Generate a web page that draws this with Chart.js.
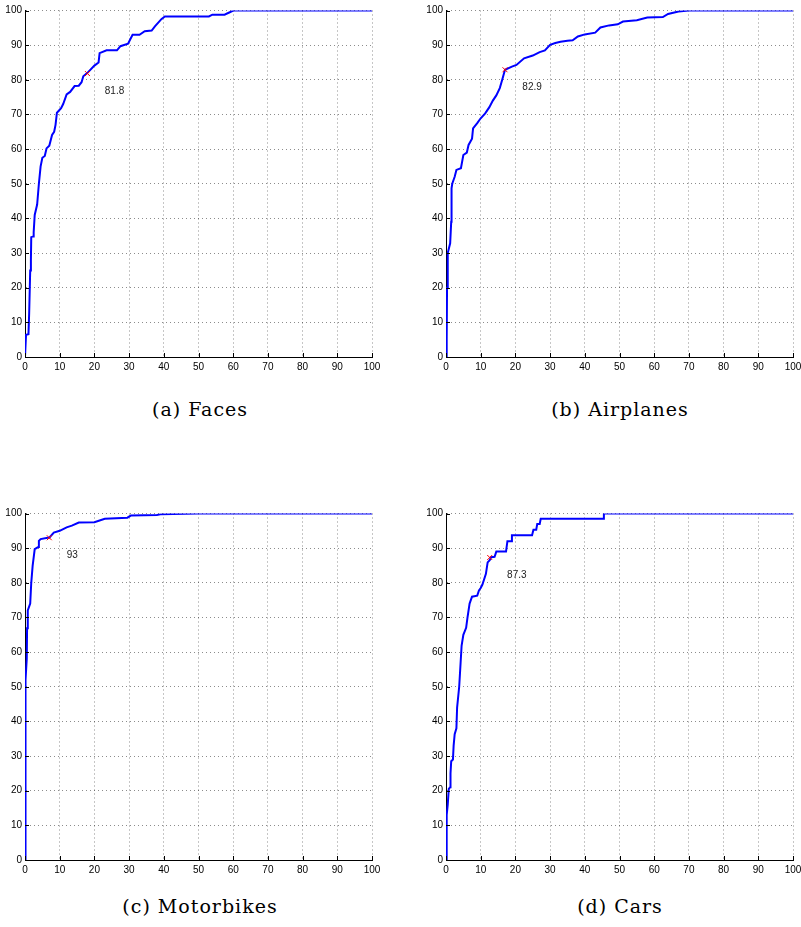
<!DOCTYPE html>
<html>
<head>
<meta charset="utf-8">
<script src="https://cdn.jsdelivr.net/npm/chart.js@4.4.1/dist/chart.umd.min.js"></script>
<style>
  body { margin: 0; background: #fff; overflow: hidden; width: 801px; height: 927px; position: relative; }
  canvas { position: absolute; }
  .cap { position: absolute; width: 400px; text-align: center; font-family: "DejaVu Serif", serif; font-size: 19px; letter-spacing: 1px; color: #000; line-height: 22px; }
</style>
</head>
<body>
<canvas id="facesChart" width="400" height="375" style="left:0;top:0"></canvas>
<canvas id="airplanesChart" width="400" height="375" style="left:421px;top:0"></canvas>
<canvas id="motorbikesChart" width="400" height="375" style="left:0;top:503px"></canvas>
<canvas id="carsChart" width="400" height="375" style="left:421px;top:503px"></canvas>
<div class="cap" style="left:0;top:398px">(a) Faces</div>
<div class="cap" style="left:420px;top:398px">(b) Airplanes</div>
<div class="cap" style="left:0;top:895px">(c) Motorbikes</div>
<div class="cap" style="left:420px;top:895px">(d) Cars</div>
<script>
// --------------------------------
// Data
// --------------------------------
const axisTicks = [0, 10, 20, 30, 40, 50, 60, 70, 80, 90, 100];

const facesX = [0, 0.3, 1.0, 1.2, 1.5, 1.7, 1.8, 2.4, 2.5, 2.8, 3.5, 4.0, 4.5, 5.0, 5.7, 6.2, 7.0, 7.8, 8.4, 8.8, 9.2, 10.4, 11.0, 12.0, 13.0, 14.3, 15.5, 16.3, 16.8, 18.0, 20.0, 21.2, 21.5, 23.5, 26.5, 27.5, 29.7, 31.0, 33.0, 34.5, 36.5, 37.5, 39.3, 40.3, 53.0, 54.0, 57.5, 59.0, 60.0, 100];
const facesY = [0, 6.4, 6.6, 12.6, 25, 28, 34.6, 34.8, 36, 41, 44, 50, 55, 57.5, 58, 60.2, 61, 64.1, 65, 67, 70.5, 71.8, 73, 75.8, 76.5, 78.2, 78.3, 79.3, 81, 82, 84.1, 85, 87.7, 88.5, 88.5, 89.7, 90.4, 93, 93, 94, 94.2, 95.5, 97.5, 98.3, 98.3, 98.8, 98.8, 99.5, 100, 100];

const airplanesX = [0, 0.2, 0.3, 0.5, 1.2, 1.5, 1.6, 1.8, 2.5, 3.0, 4.3, 5.0, 6.0, 6.5, 7.5, 7.8, 9.0, 10.0, 11.3, 12.5, 13.5, 14.5, 15.5, 16.2, 17.0, 19.0, 20.3, 22.5, 25, 27, 28.5, 30, 31.5, 33, 35, 36.5, 38, 40, 43, 44.5, 47, 49.5, 51, 55, 58, 62.5, 64, 67, 70, 100];
const airplanesY = [0, 5, 20, 30, 32.8, 39, 48.7, 50, 52, 54, 54.5, 58.3, 59, 61.2, 63, 66, 67.5, 68.9, 70.3, 72.1, 74, 75.5, 77.6, 80, 82.9, 83.8, 84.3, 86.2, 87, 88, 88.5, 90.1, 90.6, 91, 91.3, 91.4, 92.5, 93.1, 93.6, 95.1, 95.7, 96, 96.8, 97.2, 98, 98.1, 99, 99.7, 100, 100];

const motorbikesX = [0, 0.1, 0.2, 0.5, 0.6, 0.8, 1.5, 1.8, 2.2, 2.8, 3.8, 4.0, 4.5, 6.5, 7.0, 8.3, 10, 12, 13.5, 15.5, 20, 21.5, 23, 29.5, 30.5, 38, 39, 50, 100];
const motorbikesY = [0, 50, 52, 58, 66.9, 72, 74, 80, 84.9, 89.7, 90.3, 92.1, 92.6, 93, 93, 94.5, 95, 96, 96.5, 97.4, 97.5, 98, 98.5, 98.8, 99.4, 99.6, 99.8, 100, 100];

const carsX = [0, 0.2, 0.2, 0.5, 0.8, 1.2, 1.3, 1.5, 2.0, 2.2, 2.5, 3.0, 3.2, 3.8, 4.2, 4.5, 5.0, 5.8, 6.2, 6.8, 7.5, 9.0, 9.5, 10.0, 10.5, 11.5, 12.0, 12.6, 13.0, 14.0, 14.5, 17.3, 17.7, 18.8, 19.0, 24.8, 25.2, 26.0, 26.3, 27.0, 27.3, 45.3, 45.5, 100];
const carsY = [0, 0, 13, 16, 20.5, 21, 25, 28.5, 29, 33, 36.3, 38, 44, 50, 56.8, 61.9, 65, 67, 70, 74, 76, 76.3, 77.8, 78.5, 79.5, 82.6, 85.9, 86.5, 87.4, 87.5, 89, 89, 92, 92, 93.7, 93.7, 95.3, 95.3, 97, 97, 98.5, 98.5, 100, 100];

// operating point marked with a red x, and its label
const markX = [18, 17, 7, 12.6];
const markY = [81.8, 82.9, 93, 87.3];
const markLabels = ["81.8", "82.9", "93", "87.3"];

// -------------------------------
// Helpers
// -------------------------------
const tickFont = { family: "'Liberation Sans', Arial, sans-serif", size: 10 };

const matlabExtras = {
  id: "matlabExtras",
  afterDatasetsDraw(chart, args, opts) {
    const { ctx, scales: { x, y } } = chart;
    ctx.save();
    // small inward tick marks like matlab
    ctx.strokeStyle = "#000";
    ctx.lineWidth = 1;
    axisTicks.forEach((v) => {
      const px = Math.round(x.getPixelForValue(v)) + 0.5;
      ctx.beginPath();
      ctx.moveTo(px, y.bottom);
      ctx.lineTo(px, y.bottom - 4);
      ctx.stroke();
      const py = Math.round(y.getPixelForValue(v)) + 0.5;
      ctx.beginPath();
      ctx.moveTo(x.left, py);
      ctx.lineTo(x.left + 4, py);
      ctx.stroke();
    });
    // the value text next to the marker
    ctx.font = "10px 'Liberation Sans', Arial, sans-serif";
    ctx.fillStyle = "#222";
    ctx.textAlign = "left";
    ctx.textBaseline = "middle";
    ctx.fillText(opts.text, x.getPixelForValue(opts.x + 5), y.getPixelForValue(opts.y - 5));
    ctx.restore();
  },
};

function axisOpts() {
  return {
    type: "linear",
    min: 0,
    max: 100,
    afterBuildTicks: (axis) => {
      axis.ticks = axisTicks.map((v) => ({ value: v }));
    },
    ticks: { font: tickFont, color: "#000", padding: 3, maxRotation: 0, autoSkip: false },
    grid: { color: "rgba(0,0,0,0.45)", lineWidth: 1, drawTicks: false },
    border: { display: true, color: "#000", width: 1, dash: [1, 3] },
  };
}

function makeChart(id, xs, ys, i) {
  const x = axisOpts();
  const y = axisOpts();
  x.afterFit = (s) => { s.height = 18; };
  x.ticks.padding = 4;
  y.afterFit = (s) => { s.width = 25; };

  return new Chart(document.getElementById(id).getContext("2d"), {
    type: "scatter",
    data: {
      datasets: [
        {
          data: [{ x: markX[i], y: markY[i] }],
          pointStyle: "crossRot",
          pointRadius: 3.5,
          borderColor: "#ff0000",
          borderWidth: 1,
          showLine: false,
        },
        {
          data: xs.map((v, k) => ({ x: v, y: ys[k] })),
          borderColor: "#0000ff",
          borderWidth: 2,
          pointRadius: 0,
          showLine: true,
          tension: 0,
        },
      ],
    },
    options: {
      responsive: false,
      animation: false,
      events: [],
      layout: { padding: { left: 0, top: 10.5, right: 28, bottom: 0 } },
      plugins: {
        legend: { display: false },
        tooltip: { enabled: false },
        matlabExtras: { text: markLabels[i], x: markX[i], y: markY[i] },
      },
      scales: { x, y },
    },
    plugins: [matlabExtras],
  });
}

// -------------------------------
// Init
// -------------------------------
makeChart("facesChart", facesX, facesY, 0);
makeChart("airplanesChart", airplanesX, airplanesY, 1);
makeChart("motorbikesChart", motorbikesX, motorbikesY, 2);
makeChart("carsChart", carsX, carsY, 3);
</script>
</body>
</html>
